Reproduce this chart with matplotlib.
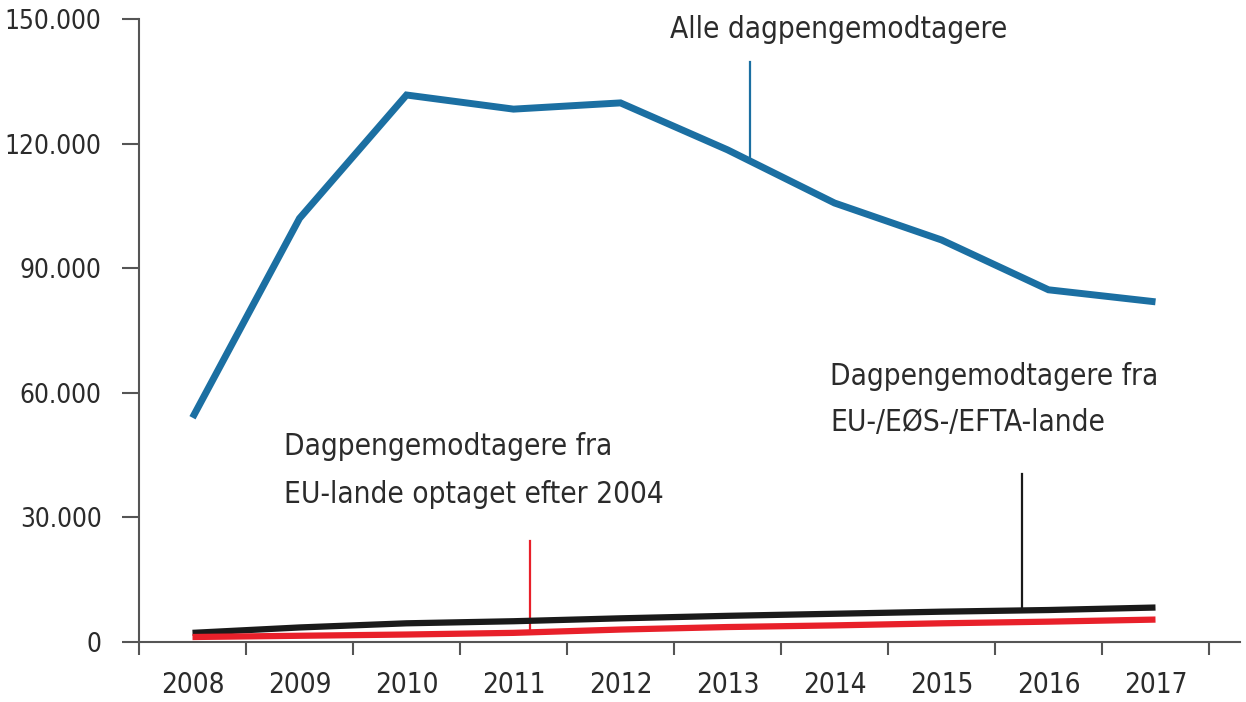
import matplotlib
matplotlib.use("Agg")
import matplotlib.pyplot as plt
import numpy as np

years = ["2008", "2009", "2010", "2011", "2012", "2013", "2014", "2015", "2016", "2017"]
alle = [54000, 102000, 131700, 128300, 129800, 118500, 105700, 96800, 84800, 81900]
eu_eos_efta = [2200, 3500, 4500, 5000, 5700, 6300, 6800, 7300, 7700, 8300]
eu_efter_2004 = [1200, 1500, 1800, 2200, 3000, 3600, 4000, 4500, 4900, 5400]
y_ticks = [0, 30000, 60000, 90000, 120000, 150000]
y_labels = ["0", "30.000", "60.000", "90.000", "120.000", "150.000"]

BLUE = "#1b6fa2"
RED = "#e8202a"
BLACK = "#1a1a1a"
GREY = "#555555"
TEXT = "#2b2b2b"

plt.rcParams['font.family'] = ['Liberation Sans Narrow', 'DejaVu Sans']
plt.rcParams['font.stretch'] = 'condensed'

fig = plt.figure(figsize=(12.46, 7.02), dpi=100)
ax = fig.add_axes([139 / 1246, 1 - 642 / 702, (1240 - 139) / 1246, (642 - 19) / 702])

x = np.arange(len(years))
ax.plot(x, alle, color=BLUE, lw=5, solid_capstyle='butt', solid_joinstyle='miter', zorder=3)
ax.plot(x, eu_eos_efta, color=BLACK, lw=4.5, solid_capstyle='butt', zorder=3)
ax.plot(x, eu_efter_2004, color=RED, lw=4.5, solid_capstyle='butt', zorder=3)

ax.set_xlim(-0.5, -0.5 + (1240 - 139) / 107)
ax.set_ylim(0, 150000)

for s in ["top", "right"]:
    ax.spines[s].set_visible(False)
for s in ["left", "bottom"]:
    ax.spines[s].set_color(GREY)
    ax.spines[s].set_linewidth(1.5)
ax.spines["left"].set_bounds(0, 150000)

ax.set_yticks(y_ticks)
ax.set_yticklabels(y_labels)
ax.set_xticks(np.arange(len(years) + 1) - 0.5)
ax.set_xticklabels([])
ax.set_xticks(x, minor=True)
ax.set_xticklabels(years, minor=True)
ax.tick_params(axis='x', which='major', length=9, width=1.5, color=GREY)
ax.tick_params(axis='x', which='minor', length=0, pad=21, labelsize=20, labelcolor=TEXT)
ax.tick_params(axis='y', length=12, width=1.5, color=GREY, pad=15, labelsize=18.8, labelcolor=TEXT)

# leader lines
def leader(xpos, ytop, series, color):
    ybot = np.interp(xpos, x, series)
    ax.plot([xpos, xpos], [ytop, ybot], color=color, lw=1.6, zorder=2)

leader(5.21, 139600, alle, BLUE)
leader(3.15, 24300, eu_efter_2004, RED)
leader(7.75, 40400, eu_eos_efta, BLACK)

ax.text(6.04, 147400, "Alle dagpengemodtagere", ha='center', va='center',
        fontsize=21.3, color=TEXT)
ax.text(0.855, 41300, "Dagpengemodtagere fra\nEU-lande optaget efter 2004",
        ha='left', va='center', fontsize=21.3, color=TEXT, linespacing=1.8)
ax.text(5.96, 58300, "Dagpengemodtagere fra\nEU-/EØS-/EFTA-lande",
        ha='left', va='center', fontsize=21.3, color=TEXT, linespacing=1.75)

for t in ax.texts:
    t.set_clip_on(False)

fig.savefig("out.png", dpi=100)
